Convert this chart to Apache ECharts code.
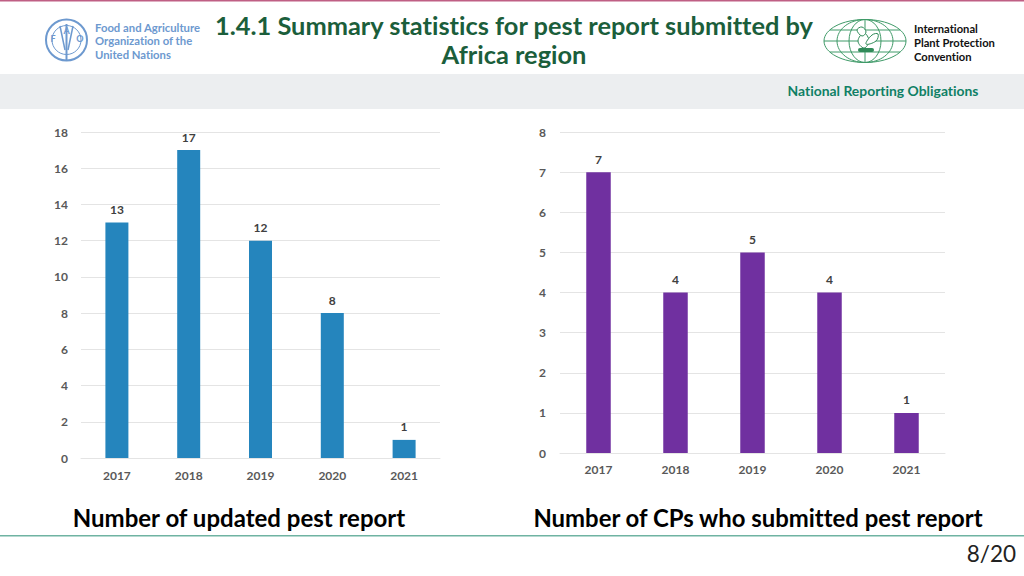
<!DOCTYPE html>
<html><head><meta charset="utf-8">
<style>html,body{margin:0;padding:0;background:#fff}#c{width:1024px;height:576px}
text{font-variant-ligatures:none;font-feature-settings:"liga" 0,"dlig" 0,"clig" 0}</style>
<script src="https://cdn.jsdelivr.net/npm/echarts@6/dist/echarts.min.js"></script>
</head><body><div id="c"></div>
<script>
const years = ['2017','2018','2019','2020','2021'];
const updatedReports = [13,17,12,8,1];
const submittingCPs = [7,4,5,4,1];
const FONT = 'Lato, "Open Sans", sans-serif';
const chart = echarts.init(document.getElementById('c'), null, {renderer:'svg'});

function txt(x,y,text,size,color,weight,align){
  return {type:'text',x:x,y:y,silent:true,style:{text:text,fontFamily:FONT,fontSize:size,fill:color,fontWeight:weight||'normal',textAlign:align||'left',textVerticalAlign:'middle'}};
}
const faoBlue='#6d99cf', ippcGreen='#3f9a68';
const line=(x1,y1,x2,y2,c,w)=>({type:'line',silent:true,shape:{x1,y1,x2,y2},style:{stroke:c,lineWidth:w||1}});
const ring=(cx,cy,rx,ry,c,w)=>({type:'ellipse',silent:true,shape:{cx,cy,rx,ry},style:{fill:'none',stroke:c,lineWidth:w||1}});
const leaf=(pts)=>({type:'polygon',silent:true,shape:{points:pts,smooth:0.4},style:{fill:'#fff',stroke:'#2f8a58',lineWidth:1}});

const graphics=[
  {type:'rect',silent:true,shape:{x:0,y:0,width:1024,height:1.5},style:{fill:'#bf5f84'}},
  {type:'rect',silent:true,shape:{x:0,y:74,width:1024,height:35},style:{fill:'#eceef0'}},
  {type:'rect',silent:true,shape:{x:0,y:535,width:1024,height:1.5},style:{fill:'#6fb3a2'}},
  // FAO emblem
  ring(66.5,40,20.5,20.5,faoBlue,2), ring(66.5,40,14.5,14.5,faoBlue,1),
  line(66.5,24,66.5,61,faoBlue,2), line(60,26,65,50,faoBlue,1.5), line(73,26,68,50,faoBlue,1.5),
  txt(53,38,'F',9,faoBlue,'bold','center'), txt(66.5,30,'A',9,faoBlue,'bold','center'), txt(80,38,'O',9,faoBlue,'bold','center'),
  txt(95,27,'Food and Agriculture',11.3,faoBlue,'bold'),
  txt(95,40.5,'Organization of the',11.3,faoBlue,'bold'),
  txt(95,54,'United Nations',11.3,faoBlue,'bold'),
  // Title
  txt(514,25,'1.4.1 Summary statistics for pest report submitted by',25.4,'#1b5e3b','bold','center'),
  txt(514,54,'Africa region',25.4,'#1b5e3b','bold','center'),
  // IPPC emblem
  ring(865,41,41,21.5,ippcGreen,1), ring(865,41,28,21.5,ippcGreen,1), ring(865,41,16,21.5,ippcGreen,1),
  line(824,41,906,41,ippcGreen,1), line(830,30,900,30,ippcGreen,1), line(830,52,900,52,ippcGreen,1), line(865,20,865,62,ippcGreen,1),
  leaf([[864,48],[858,41],[864,33],[869,41]]), leaf([[866,44],[872,35],[878,34],[876,41]]), leaf([[862,36],[857,30],[862,27],[866,32]]),
  {type:'rect',silent:true,shape:{x:858,y:48,width:16,height:4,r:2},style:{fill:'#2f8a58'}},
  txt(914,28,'International',11.2,'#111','bold'),
  txt(914,42,'Plant Protection',11.2,'#111','bold'),
  txt(914,56,'Convention',11.2,'#111','bold'),
  txt(883,90.5,'National Reporting Obligations',13.9,'#0f8065','bold','center'),
  // chart captions
  txt(239,517,'Number of updated pest report',24,'#000','bold','center'),
  txt(758,517,'Number of CPs who submitted pest report',23.9,'#000','bold','center'),
  txt(1016,553.5,'8/20',22.5,'#222','normal','right')
];

const axisText={color:'#595959',fontFamily:FONT,fontSize:12,fontWeight:'bold'};
function xAxis(i){return {type:'category',gridIndex:i,data:years,axisTick:{show:false},axisLine:{lineStyle:{color:'#e4e4e4',width:1}},axisLabel:Object.assign({margin:i?10:11},axisText)};}
function yAxis(i,max,step){return {type:'value',gridIndex:i,min:0,max:max,interval:step,axisLine:{show:false},axisTick:{show:false},splitLine:{lineStyle:{color:'#e4e4e4',width:1}},axisLabel:Object.assign({margin:i?14:13,padding:[0,0,4,0]},axisText)};}
function bars(i,data,color,w){return {type:'bar',xAxisIndex:i,yAxisIndex:i,data:data,barWidth:w,itemStyle:{color:color},label:{show:true,position:'top',distance:7,color:'#404040',fontFamily:FONT,fontSize:12,fontWeight:'bold'},z:3};}

chart.setOption({
  animation:false,
  backgroundColor:'#fff',
  grid:[{left:81,top:132,width:359,height:326},{left:560,top:132,width:385,height:321}],
  xAxis:[xAxis(0),xAxis(1)],
  yAxis:[yAxis(0,18,2),yAxis(1,8,1)],
  series:[bars(0,updatedReports,'#2585bd',23),bars(1,submittingCPs,'#7030a0',24.5)],
  graphic:graphics
});
</script></body></html>
